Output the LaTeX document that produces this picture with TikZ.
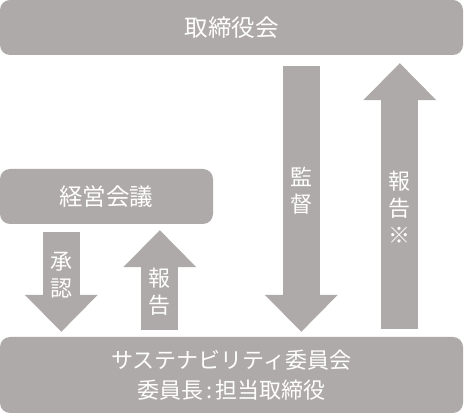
\documentclass[tikz,border=0pt]{standalone}
\usepackage{fontspec}
\setmainfont{Noto Sans CJK JP}
\usepackage{tikz}
\usetikzlibrary{arrows.meta}
\definecolor{boxgray}{RGB}{174,170,169}

\begin{document}
\begin{tikzpicture}[
    x=1pt, y=1pt,
    graybox/.style={fill=boxgray, rounded corners=10pt, text=white, align=center, inner sep=0pt, font=\fontsize{23.5}{30}\selectfont},
    flow/.style={draw=boxgray, line width=37pt, -{Triangle[width=73pt, length=37pt, line width=0pt]}},
    flowtext/.style={text=white, align=center, inner sep=0pt, font=\fontsize{22}{27}\selectfont},
]
    \useasboundingbox (0, 0) rectangle (464, 415);

    % Boxes
    \node at (231.5, 387.5) [graybox, minimum width=463pt, minimum height=55pt](board){取締役会};
    \node at (106.5, 218.5) [graybox, minimum width=213pt, minimum height=55pt](mgmt){経営会議};
    \node at (231.5, 40) [graybox, minimum width=463pt, minimum height=76pt, font=\fontsize{22}{30}\selectfont](committee){サステナビリティ委員会\\委員長\hspace{3pt}:\hspace{3pt}担当取締役};

    % Management meeting <-> committee
    \draw [flow, shorten <=8pt, shorten >=5pt] ([xshift=61.5pt]mgmt.south west) -- ([xshift=61.5pt]committee.north west)
        node[flowtext, pos=0.45](approve){承\\認};
    \draw [flow, shorten <=7pt, shorten >=6pt] ([xshift=160pt]committee.north west) -- ([xshift=160pt]mgmt.south west)
        node[flowtext, pos=0.40](report_mgmt){報\\告};

    % Board <-> committee
    \draw [flow, shorten <=11pt, shorten >=5pt] ([xshift=301.5pt]board.south west) -- ([xshift=301.5pt]committee.north west)
        node[flowtext, pos=0.48](supervise){監\\督};
    \draw [flow, shorten <=8pt, shorten >=8pt] ([xshift=400pt]committee.north west) -- ([xshift=400pt]board.south west)
        node[flowtext, pos=0.46](report_board){報\\告\\※};

\end{tikzpicture}
\end{document}
